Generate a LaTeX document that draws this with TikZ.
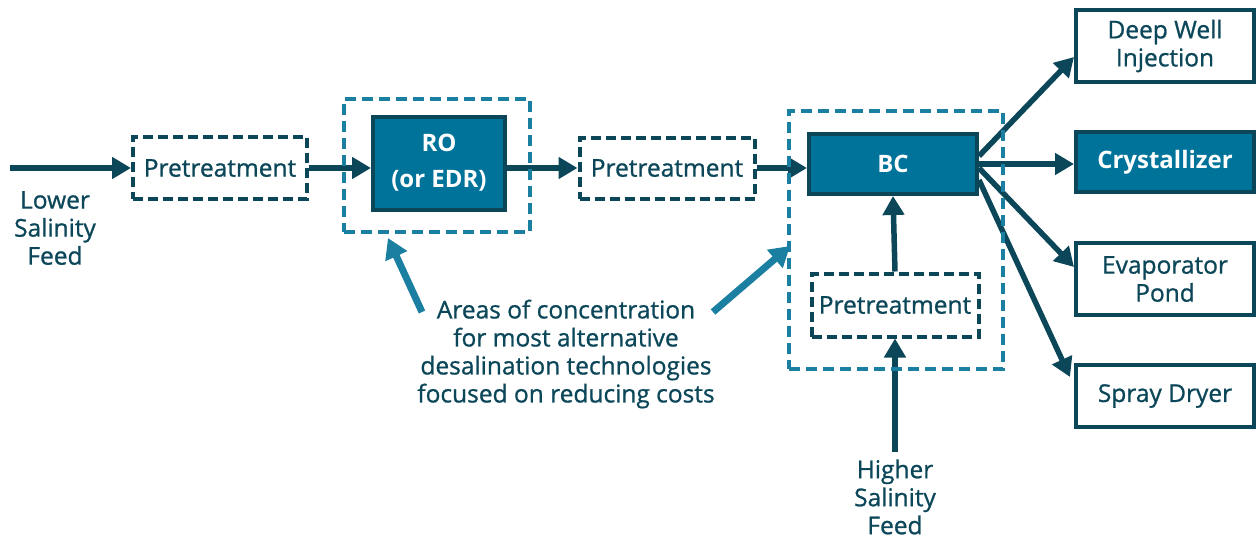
\documentclass[tikz,border=0pt]{standalone}
\usepackage{fontspec}
\setmainfont{Open Sans}
\newfontfamily\medfont{Open Sans}[FakeBold=0.9]
\usetikzlibrary{arrows.meta}
\definecolor{dk}{HTML}{0B4659}
\definecolor{fillc}{HTML}{00739A}
\definecolor{lt}{HTML}{1A7FA0}
\tikzset{
  dashbox/.style={draw=dk, line width=4pt, dash pattern=on 10pt off 5pt, fill=white, text=dk, font=\medfont\fontsize{24.5}{28}\selectfont, inner sep=0pt},
  solidbox/.style={draw=dk, line width=4pt, fill=white, text=dk, font=\medfont\fontsize{24.5}{28}\selectfont, align=center, inner sep=0pt},
  filledbox/.style={draw=dk, line width=4pt, fill=fillc, text=white, font=\bfseries\fontsize{24}{36}\selectfont, align=center, inner sep=0pt},
  zone/.style={draw=lt, line width=4pt, dash pattern=on 11pt off 6pt, inner sep=0pt},
  flow/.style={draw=dk, line width=5.5pt, -{Triangle[length=19pt,width=21pt]}},
  pointer/.style={draw=lt, line width=7pt, -{Triangle[length=20pt,width=23pt]}},
  lbl/.style={text=dk, font=\medfont\fontsize{24.5}{28}\selectfont, align=center}
}
\begin{document}
\begin{tikzpicture}[x=1pt,y=-1pt]
\useasboundingbox (0,0) rectangle (1256,539);
% boxes
\node[dashbox, minimum width=174pt, minimum height=62pt] (p1) at (220,168) {Pretreatment};
\node[filledbox, minimum width=132pt, minimum height=93pt] (ro) at (439,163) {RO\\(or EDR)};
\node[dashbox, minimum width=175pt, minimum height=61pt] (p2) at (667,168) {Pretreatment};
\node[filledbox, minimum width=168pt, minimum height=60pt] (bc) at (893,164) {BC};
\node[dashbox, minimum width=167pt, minimum height=63pt] (p3) at (895,305) {Pretreatment};
\node[solidbox, minimum width=178pt, minimum height=72pt] (dw) at (1165,46) {Deep Well\\Injection};
\node[filledbox, minimum width=178pt, minimum height=60pt] (cr) at (1165,162) {Crystallizer};
\node[solidbox, minimum width=178pt, minimum height=72pt] (ev) at (1165,279) {Evaporator\\Pond};
\node[solidbox, minimum width=178pt, minimum height=62pt] (sd) at (1165,396) {Spray Dryer};
% labels
\node[lbl] (lowfeed) at (55,228) {Lower\\Salinity\\Feed};
\node[lbl] (highfeed) at (895,497) {Higher\\Salinity\\Feed};
\node[lbl] (areas) at (566,354) {Areas of concentration\\for most alternative\\desalination technologies\\focused on reducing costs};
\coordinate (lowin) at (10,168);
\coordinate (highin) at (895,452);
\coordinate (ptrA0) at (422,312);
\coordinate (ptrA1) at (388,238);
\coordinate (ptrB0) at (713,312);
\coordinate (ptrB1) at (790,246);
% flows
\draw[flow] (lowin) -- (p1.west);
\draw[flow] (p1.east) -- (p1.east -| ro.west);
\draw[flow] (ro.east |- p2.west) -- (p2.west);
\draw[flow] (p2.east) -- (p2.east -| bc.west);
\draw[flow] (p3.north) -- (bc.south);
\draw[flow] (highin) -- (p3.south);
\draw[flow] ([yshift=8pt]bc.east) -- ([yshift=-11pt]dw.west);
\draw[flow] (bc.east) -- (bc.east -| cr.west);
\draw[flow] ([yshift=-4pt]bc.east) -- ([yshift=12pt]ev.west);
\draw[flow] ([yshift=-16pt]bc.east) -- ([xshift=-4pt,yshift=19pt]sd.west);
% zones
\node[zone, minimum width=186pt, minimum height=133pt] (rozone) at (437,165.5) {};
\node[zone, minimum width=214pt, minimum height=258pt] (bczone) at (896,240) {};
% pointers
\draw[pointer] (ptrA0) -- (ptrA1);
\draw[pointer] (ptrB0) -- (ptrB1);
\end{tikzpicture}
\end{document}
